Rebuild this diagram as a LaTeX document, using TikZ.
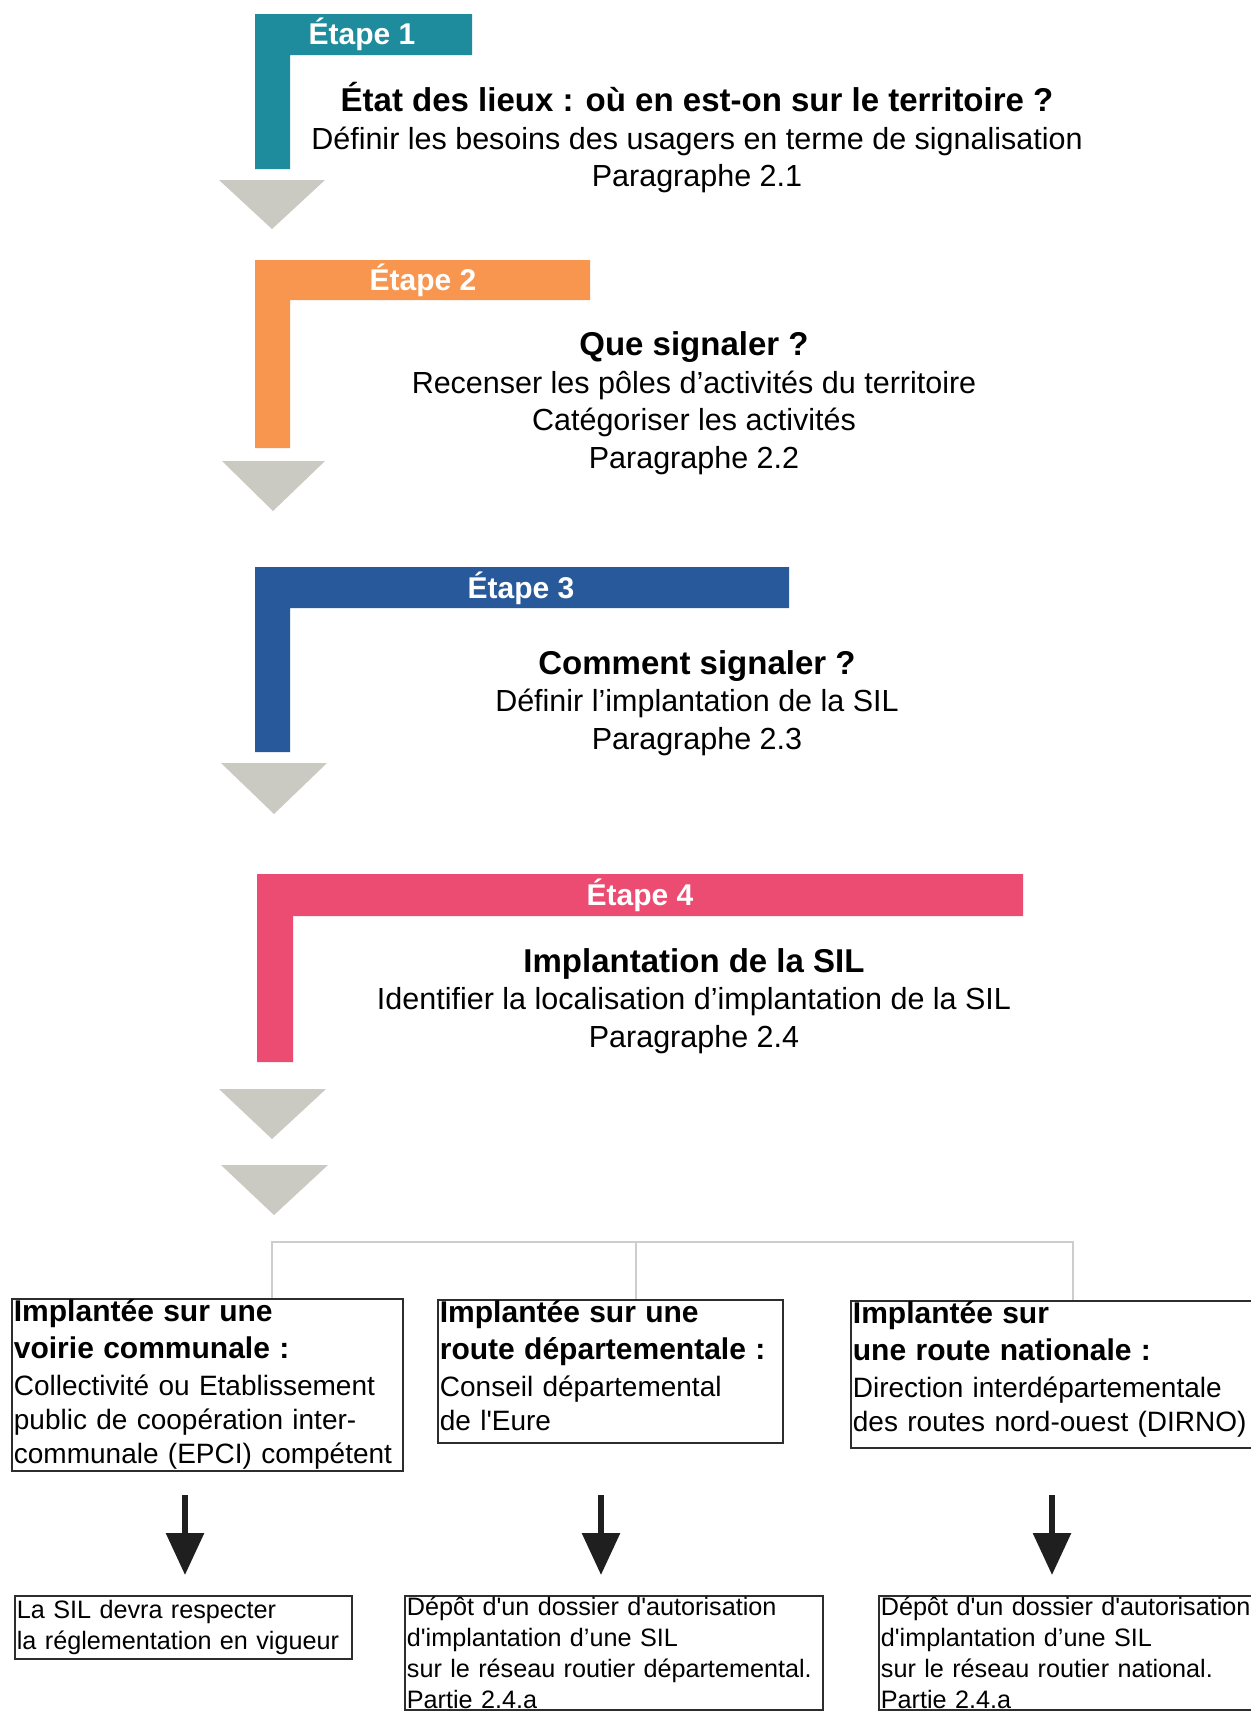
\documentclass[tikz,border=0pt]{standalone}
\usepackage{fontspec}
\setmainfont{Liberation Sans}[Ligatures=TeXOff]
\usetikzlibrary{arrows.meta}
\definecolor{stepA}{RGB}{30,140,156}
\definecolor{stepB}{RGB}{248,150,80}
\definecolor{stepC}{RGB}{40,90,155}
\definecolor{stepD}{RGB}{236,76,114}
\definecolor{trigray}{RGB}{202,202,194}
\definecolor{conngray}{RGB}{205,205,205}
\definecolor{boxline}{RGB}{45,45,45}
\newcommand\stitle{\fontsize{33}{37.5}\selectfont\bfseries}
\newcommand\btitle{\fontsize{30}{37}\selectfont\bfseries}
\begin{document}
\begin{tikzpicture}[x=1pt,y=-1pt,
  etape/.style={text=white,font=\fontsize{30}{36}\selectfont\bfseries,inner sep=0pt},
  steptext/.style={align=center,font=\fontsize{30.5}{37.5}\selectfont,inner sep=0pt},
  tri/.style={fill=trigray},
  infobox/.style={draw=boxline,line width=1.8pt,align=left,anchor=north west,
    inner xsep=2pt,inner ysep=1pt,font=\fontsize{28}{34}\selectfont},
  lowbox/.style={draw=boxline,line width=1.8pt,align=left,anchor=north west,
    inner xsep=2pt,inner ysep=1pt,font=\fontsize{25.2}{31}\selectfont},
  conn/.style={draw=conngray,line width=1.5pt},
  darrow/.style={draw=black!88,line width=6pt,-{Triangle[width=37pt,length=42pt]}}
]
\useasboundingbox[fill=white] (0,0) rectangle (1250,1713);

% Etape 1
\fill[stepA] (255,14) -- (472,14) -- (472,55) -- (290,55) -- (290,169) -- (255,169) -- cycle;
\node[etape] (e1) at (362,34.5) {Étape 1};
\fill[tri] (219,180) -- (325,180) -- (272,229) -- cycle;
\node[steptext] (s1) at (697,138) {{\stitle État des lieux : où en est-on sur le territoire ?}\\
  Définir les besoins des usagers en terme de signalisation\\ Paragraphe 2.1};

% Etape 2
\fill[stepB] (255,260) -- (590,260) -- (590,300) -- (290,300) -- (290,448) -- (255,448) -- cycle;
\node[etape] (e2) at (423,280) {Étape 2};
\fill[tri] (222,461) -- (325,461) -- (273,511) -- cycle;
\node[steptext] (s2) at (694,403) {{\stitle Que signaler ?}\\
  Recenser les pôles d’activités du territoire\\ Catégoriser les activités\\ Paragraphe 2.2};

% Etape 3
\fill[stepC] (255,567) -- (789,567) -- (789,608) -- (290,608) -- (290,752) -- (255,752) -- cycle;
\node[etape] (e3) at (521,588) {Étape 3};
\fill[tri] (221,763) -- (327,763) -- (274,814) -- cycle;
\node[steptext] (s3) at (697,703) {{\stitle Comment signaler ?}\\
  Définir l’implantation de la SIL\\ Paragraphe 2.3};

% Etape 4
\fill[stepD] (257,874) -- (1023,874) -- (1023,916) -- (293,916) -- (293,1062) -- (257,1062) -- cycle;
\node[etape] (e4) at (640,895) {Étape 4};
\node[steptext] (s4) at (694,1001) {{\stitle Implantation de la SIL}\\
  Identifier la localisation d’implantation de la SIL\\ Paragraphe 2.4};
\fill[tri] (219,1089) -- (326,1089) -- (272,1139) -- cycle;
\fill[tri] (221,1165) -- (328,1165) -- (274,1215) -- cycle;

% boxes
\node[infobox,text width=387pt,text depth=148pt] (bA) at (11,1298)
  {{\btitle Implantée sur une}\\[3pt]{\btitle voirie communale :}\\[3pt]
   Collectivité ou Etablissement\\ public de coopération inter-\\ communale (EPCI) compétent};
\node[infobox,text width=341pt,text depth=119pt] (bB) at (437,1299)
  {{\btitle Implantée sur une}\\[3pt]{\btitle route départementale :}\\[3pt]
   Conseil départemental\\ de l'Eure};
\node[infobox,text width=400pt,text depth=123pt] (bC) at (850,1300)
  {{\btitle Implantée sur}\\[3pt]{\btitle une route nationale :}\\[3pt]
   Direction interdépartementale\\ des routes nord-ouest (DIRNO)};

% grey tree
\coordinate (t1) at (272,1242);
\coordinate (t2) at (636,1242);
\coordinate (t3) at (1073,1242);
\draw[conn] (bA.north -| t1) -- (t1) -- (t3) -- (bC.north -| t3);
\draw[conn] (t2) -- (bB.north -| t2);

% lower boxes
\node[lowbox,text width=333pt,minimum height=63pt] (bD) at (14,1595)
  {La SIL devra respecter\\ la réglementation en vigueur};
\node[lowbox,text width=414pt] (bE) at (404,1595)
  {Dépôt d'un dossier d'autorisation\\ d'implantation d’une SIL\\
   sur le réseau routier départemental.\\ Partie 2.4.a};
\node[lowbox,text width=400pt] (bF) at (878,1595)
  {Dépôt d'un dossier d'autorisation\\ d'implantation d’une SIL\\
   sur le réseau routier national.\\ Partie 2.4.a};

% black arrows
\coordinate (a1s) at (185,1495); \coordinate (a1e) at (185,1575);
\coordinate (a2s) at (601,1495); \coordinate (a2e) at (601,1575);
\coordinate (a3s) at (1052,1495); \coordinate (a3e) at (1052,1575);
\draw[darrow] (a1s) -- (a1e);
\draw[darrow] (a2s) -- (a2e);
\draw[darrow] (a3s) -- (a3e);
\end{tikzpicture}
\end{document}
